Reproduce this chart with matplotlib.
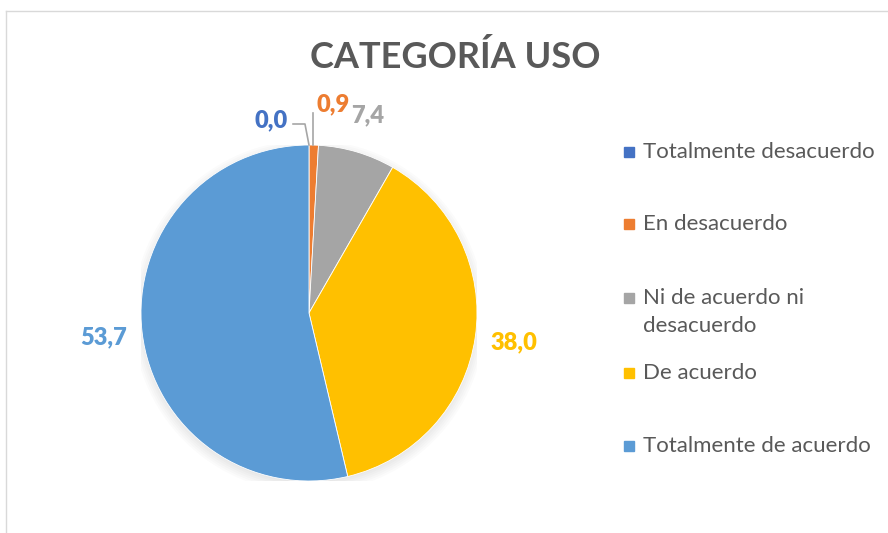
import numpy as np
import matplotlib.pyplot as plt
from matplotlib.patches import Circle, Rectangle
from matplotlib.lines import Line2D

plt.rcParams['font.family'] = ['Lato', 'DejaVu Sans']

# data
categories = ['Totalmente desacuerdo', 'En desacuerdo', 'Ni de acuerdo ni\ndesacuerdo',
              'De acuerdo', 'Totalmente de acuerdo']
values = [0.0, 0.9, 7.4, 38.0, 53.7]
value_labels = ['0,0', '0,9', '7,4', '38,0', '53,7']
colors = ['#4472C4', '#ED7D31', '#A5A5A5', '#FFC000', '#5B9BD5']

W, H = 888, 533
fig = plt.figure(figsize=(W / 100, H / 100), dpi=100)

# pie axes: center (309, 313), radius 168 px
cx, cy, r = 309, 313, 168
ax = fig.add_axes([(cx - r) / W, (H - cy - r) / H, 2 * r / W, 2 * r / H])

# soft shadow under the pie
for k in range(6):
    ax.add_patch(Circle((0, -0.02), 0.99 + 0.012 * k, color='black',
                        alpha=0.015, lw=0, zorder=0))

wedges, _ = ax.pie(values, colors=colors, startangle=90, counterclock=False,
                   radius=1.0, wedgeprops=dict(linewidth=0.6, edgecolor='white'))
for w in wedges:
    w.set_zorder(2)
ax.set_xlim(-1, 1)
ax.set_ylim(-1, 1)
ax.set_aspect('equal')
ax.axis('off')

lbl_kw = dict(fontsize=17, fontweight='heavy', ha='center', va='center', clip_on=False)
for i, (w, v) in enumerate(zip(wedges, values)):
    ang = np.deg2rad((w.theta1 + w.theta2) / 2)
    if v >= 5:
        d = 1.23
        ax.text(d * np.cos(ang), d * np.sin(ang), value_labels[i],
                color=colors[i], **lbl_kw)

# small slices: labels with leader lines
tip0 = np.deg2rad(wedges[0].theta1)
ax.text(-0.226, 1.149, value_labels[0], color=colors[0], **lbl_kw)
ax.plot([-0.095, -0.024, np.cos(tip0)], [1.125, 1.125, np.sin(tip0)],
        color='#A6A6A6', lw=1.2, clip_on=False, zorder=3)
ax.text(0.143, 1.244, value_labels[1], color=colors[1], **lbl_kw)
ax.plot([0.024, 0.024], [1.19, 1.0], color='#A6A6A6', lw=1.2,
        clip_on=False, zorder=3)

# title
fig.text(455 / W, 1 - 57 / H, 'CATEGORÍA USO', ha='center', va='center',
         fontsize=26, fontweight='bold', color='#595959')

# legend
leg_y = [152, 224, 298, 373, 446]
for lab, col, y in zip(categories, colors, leg_y):
    fig.patches.append(Rectangle((624 / W, 1 - (y + 5) / H), 10 / W, 10 / H,
                                 transform=fig.transFigure, color=col))
    for j, ln in enumerate(lab.split('\n')):
        fig.text(643 / W, 1 - (y + 28 * j) / H, ln, ha='left', va='center',
                 fontsize=16, color='#595959')

# chart frame (partly cropped)
fig.add_artist(Line2D([6 / W, 1], [1 - 11 / H, 1 - 11 / H], color='#D9D9D9', lw=1))
fig.add_artist(Line2D([6 / W, 6 / W], [0, 1 - 11 / H], color='#D9D9D9', lw=1))

fig.savefig('out.png', dpi=100)
